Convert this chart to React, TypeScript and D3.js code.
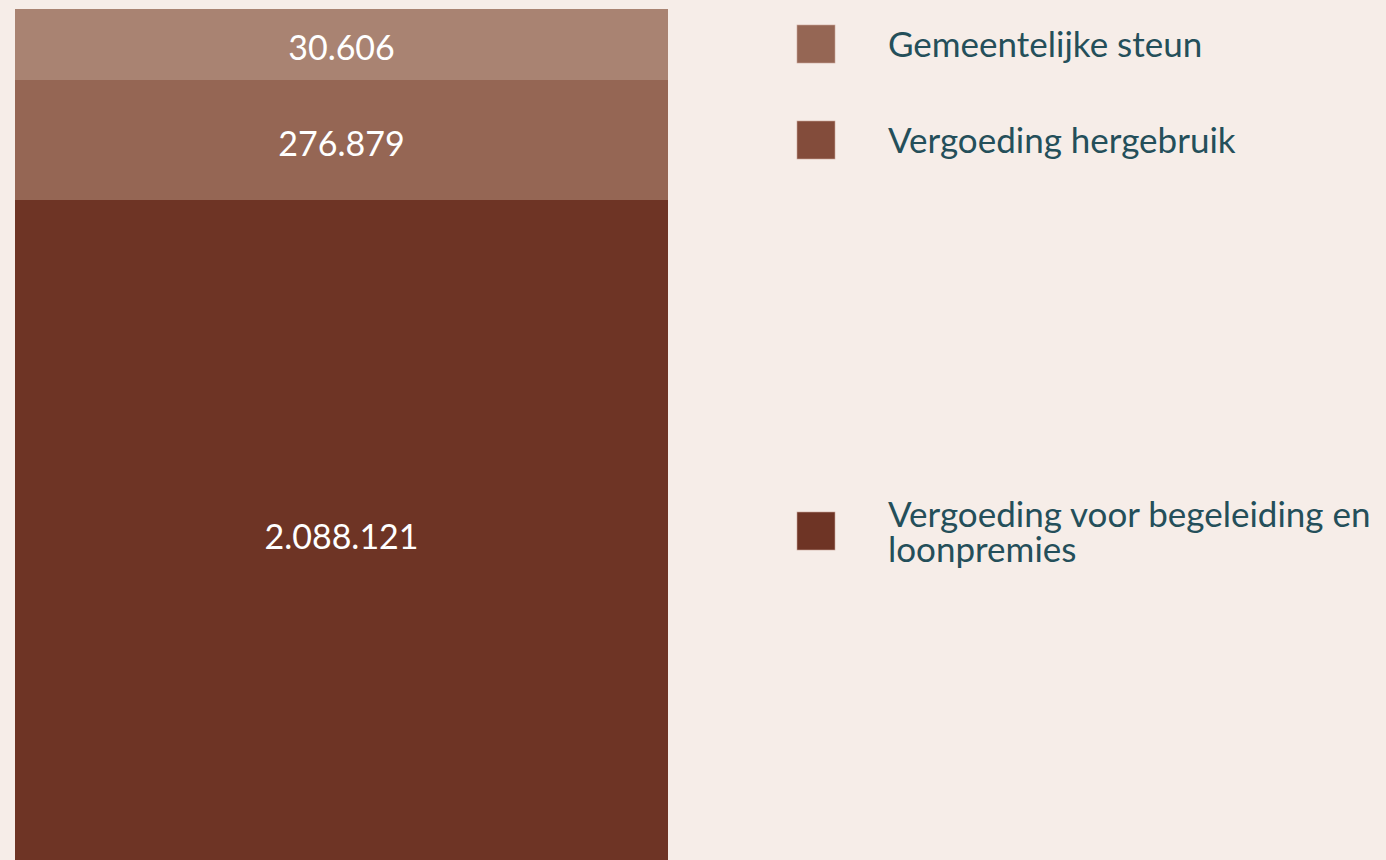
import React from "react";
import * as d3 from "d3";

const categories = ["Vergoeding voor begeleiding en loonpremies", "Vergoeding hergebruik", "Gemeentelijke steun"];
const values = [2088121, 276879, 30606];
const barColors = ["#6e3425", "#956654", "#a98372"];
const legendOrder = ["Gemeentelijke steun", "Vergoeding hergebruik", "Vergoeding voor begeleiding en loonpremies"];
const legendColors = ["#956654", "#834c3b", "#6e3425"];
const legendLines = [["Gemeentelijke steun"], ["Vergoeding hergebruik"], ["Vergoeding voor begeleiding en", "loonpremies"]];

const W = 1386;
const H = 860;
const FONT = "Lato, 'Open Sans', sans-serif";

export default function App() {
  const cum = d3.cumsum(values);
  const stops = [0, ...Array.from(cum)];
  // piecewise scale (segments have display minimums in the original)
  const y = d3.scaleLinear().domain(stops).range([866, 200, 80, 9]);
  const x = d3.scaleBand().domain(["total"]).range([15, 668]).padding(0);
  const fmt = (v: number) => d3.format(",")(v).replace(/,/g, ".");
  const legendY = d3.scaleOrdinal<string, number>().domain(legendOrder).range([44, 140, 531]);

  return (
    <div style={{ margin: 0, position: "absolute", left: 0, top: 0, width: W, height: H, overflow: "hidden" }}>
      <svg width={W} height={H} style={{ display: "block" }}>
        <rect x={0} y={0} width={W} height={H} fill="#f6ede8" />
        {values.map((v, i) => {
          const y0 = y(stops[i]);
          const y1 = y(stops[i + 1]);
          return (
            <g key={categories[i]}>
              <rect x={x("total")} y={y1} width={x.bandwidth()} height={y0 - y1} fill={barColors[i]} />
              <text
                x={(x("total") as number) + x.bandwidth() / 2}
                y={(y0 + y1) / 2 + 2}
                textAnchor="middle"
                dominantBaseline="central"
                fill="#ffffff"
                fontFamily={FONT}
                fontSize={34}
              >
                {fmt(v)}
              </text>
            </g>
          );
        })}
        {legendOrder.map((name, i) => {
          const cy = legendY(name);
          const lines = legendLines[i];
          return (
            <g key={name}>
              <rect x={797} y={cy - 19} width={38} height={38} fill={legendColors[i]} stroke="#c9a597" strokeWidth={0.6} />
              {lines.map((ln, j) => (
                <text
                  key={j}
                  x={888}
                  y={cy + 13 - (lines.length - 1) * 17.5 + j * 35}
                  fill="#244f5a"
                  fontFamily={FONT}
                  fontSize={35}
                >
                  {ln}
                </text>
              ))}
            </g>
          );
        })}
      </svg>
    </div>
  );
}
